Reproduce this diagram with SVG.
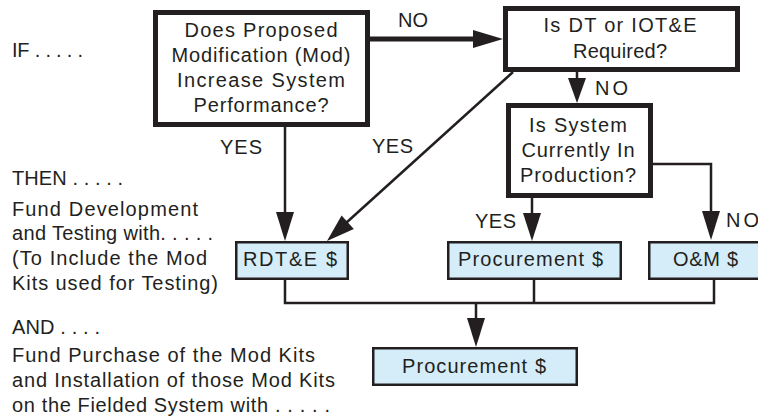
<svg xmlns="http://www.w3.org/2000/svg" width="758" height="418" viewBox="0 0 758 418">
<style>
text{font-family:"Liberation Sans",Arial,sans-serif;font-size:20px;fill:#231f20}
.m{text-anchor:middle}
.q{fill:#fff;stroke:#231f20;stroke-width:5}
.f{fill:#d5edf8;stroke:#231f20;stroke-width:2.5}
.c{fill:none;stroke:#231f20;stroke-width:2.5}
.h{fill:#231f20;stroke:none}
</style>
<rect width="758" height="418" fill="#fff"/>
<g id="labels-left">
<text x="12" y="57" textLength="71" lengthAdjust="spacing">IF . . . . .</text>
<text x="12" y="185" textLength="111" lengthAdjust="spacing">THEN . . . . .</text>
<text x="12" y="216" textLength="186" lengthAdjust="spacing">Fund Development</text>
<text x="12" y="240" textLength="201" lengthAdjust="spacing">and Testing with. . . . .</text>
<text x="12" y="265" textLength="195" lengthAdjust="spacing">(To Include the Mod</text>
<text x="12" y="290" textLength="206" lengthAdjust="spacing">Kits used for Testing)</text>
<text x="12" y="334" textLength="88" lengthAdjust="spacing">AND . . . .</text>
<text x="12" y="362" textLength="303" lengthAdjust="spacing">Fund Purchase of the Mod Kits</text>
<text x="12" y="387" textLength="323" lengthAdjust="spacing">and Installation of those Mod Kits</text>
<text x="12" y="412" textLength="318" lengthAdjust="spacing">on the Fielded System with . . . . .</text>
</g>
<g id="connectors">
<line x1="370" y1="39" x2="476" y2="39" stroke="#231f20" stroke-width="5"/>
<polygon class="h" points="503,39 473,30 473,48"/>
<line class="c" x1="577" y1="72" x2="577" y2="80"/>
<polygon class="h" points="577,103 568,78 586,78"/>
<line class="c" x1="285" y1="127" x2="285" y2="214"/>
<polygon class="h" points="285,241 276,212 294,212"/>
<line class="c" x1="513" y1="72" x2="346" y2="223"/>
<polygon class="h" points="327,241 353.8,228.9 341.6,215.5"/>
<line class="c" x1="532" y1="198" x2="532" y2="215"/>
<polygon class="h" points="532,241 523,213 541,213"/>
<polyline class="c" points="653,164 711,164 711,213"/>
<polygon class="h" points="711,240 702,211 720,211"/>
<polyline class="c" points="285,280 285,303 714,303 714,280"/>
<line class="c" x1="534" y1="280" x2="534" y2="303"/>
<line class="c" x1="476" y1="303" x2="476" y2="320"/>
<polygon class="h" points="476,347 467,318 485,318"/>
<text x="398" y="27" textLength="30" lengthAdjust="spacing">NO</text>
<text x="595" y="95" textLength="33" lengthAdjust="spacing">NO</text>
<text x="220" y="154" textLength="42" lengthAdjust="spacing">YES</text>
<text x="372" y="153" textLength="41" lengthAdjust="spacing">YES</text>
<text x="475" y="228" textLength="41" lengthAdjust="spacing">YES</text>
<text x="726" y="227" textLength="33" lengthAdjust="spacing">NO</text>
</g>
<g id="q1">
<rect class="q" x="155.5" y="12.5" width="212" height="112"/>
<text class="m" x="261" y="37" textLength="153" lengthAdjust="spacing">Does Proposed</text>
<text class="m" x="261" y="62" textLength="179" lengthAdjust="spacing">Modification (Mod)</text>
<text class="m" x="261" y="87" textLength="168" lengthAdjust="spacing">Increase System</text>
<text class="m" x="261" y="112" textLength="135" lengthAdjust="spacing">Performance?</text>
</g>
<g id="q2">
<rect class="q" x="505.5" y="8.5" width="232" height="61"/>
<text class="m" x="620" y="32" textLength="153" lengthAdjust="spacing">Is DT or IOT&amp;E</text>
<text class="m" x="620" y="58" textLength="94" lengthAdjust="spacing">Required?</text>
</g>
<g id="q3">
<rect class="q" x="508.5" y="105.5" width="142" height="90"/>
<text class="m" x="578" y="132" textLength="98" lengthAdjust="spacing">Is System</text>
<text class="m" x="578" y="157" textLength="113" lengthAdjust="spacing">Currently In</text>
<text class="m" x="578" y="182" textLength="116" lengthAdjust="spacing">Production?</text>
</g>
<g id="rdte">
<rect class="f" x="236.25" y="242.25" width="111.5" height="36.5"/>
<text class="m" x="290" y="266" textLength="94" lengthAdjust="spacing">RDT&amp;E $</text>
</g>
<g id="proc1">
<rect class="f" x="448.25" y="242.25" width="172.5" height="36.5"/>
<text class="m" x="530.5" y="266" textLength="145" lengthAdjust="spacing">Procurement $</text>
</g>
<g id="om">
<rect class="f" x="649.25" y="242.25" width="120" height="36.5"/>
<text x="673" y="266" textLength="65" lengthAdjust="spacing">O&amp;M $</text>
</g>
<g id="proc2">
<rect class="f" x="373.25" y="348.25" width="203.5" height="36.5"/>
<text class="m" x="474" y="373" textLength="144" lengthAdjust="spacing">Procurement $</text>
</g>
</svg>
